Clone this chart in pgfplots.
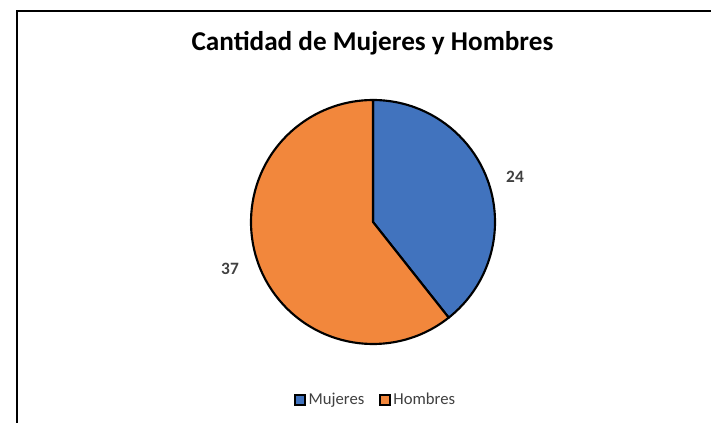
\documentclass[border=0pt]{standalone}
\usepackage{pgfplots}
\pgfplotsset{compat=1.18}
\usepackage{fontspec}
\setmainfont{Carlito}
\definecolor{mblue}{HTML}{4173BE}
\definecolor{morange}{HTML}{F2873C}
\definecolor{lbl}{HTML}{404040}
\def\mujeres{24}
\def\hombres{37}
\begin{document}
\begin{tikzpicture}
\clip (0,0) rectangle (533.25pt,316.5pt);
\begin{axis}[x=0.75pt,y=0.75pt,xmin=0,xmax=711,ymin=0,ymax=422,
  hide axis, clip=false, at={(0pt,0pt)}, anchor=south west,
  legend columns=2,
  legend style={at={(axis cs:376,22)}, anchor=center, draw=none, fill=none,
    font=\fontsize{12.5pt}{14pt}\selectfont\color{lbl},
    /tikz/every even column/.append style={column sep=9pt},
    inner sep=0pt, row sep=0pt},
  legend image code/.code={\draw[#1, line width=1.2pt] (0pt,-3.6pt) rectangle (7.6pt,3.6pt);},
]
\pgfmathsetmacro\angM{90-360*\mujeres/(\mujeres+\hombres)}
\addlegendimage{fill=mblue, draw=black}
\addlegendentry{Mujeres}
\addlegendimage{fill=morange, draw=black}
\addlegendentry{Hombres}
\draw[line width=1.5pt] (axis cs:17,411) rectangle (axis cs:740,-20);
\filldraw[fill=mblue, draw=black, line width=1.6pt, line join=round]
  (axis cs:373,200) -- ++(90:91.5pt) arc[start angle=90, end angle=\angM, radius=91.5pt] -- cycle;
\filldraw[fill=morange, draw=black, line width=1.6pt, line join=round]
  (axis cs:373,200) -- ++(\angM:91.5pt) arc[start angle=\angM, end angle=-270, radius=91.5pt] -- cycle;
\node[anchor=base, font=\fontsize{20.4pt}{23pt}\selectfont\bfseries] at (axis cs:372.5,371) {Cantidad de Mujeres y Hombres};
\node[anchor=base, text=lbl, font=\fontsize{13pt}{15pt}\selectfont\bfseries] at (axis cs:515,239.7) {\mujeres};
\node[anchor=base, text=lbl, font=\fontsize{13pt}{15pt}\selectfont\bfseries] at (axis cs:230,147.7) {\hombres};
\end{axis}
\end{tikzpicture}
\end{document}
